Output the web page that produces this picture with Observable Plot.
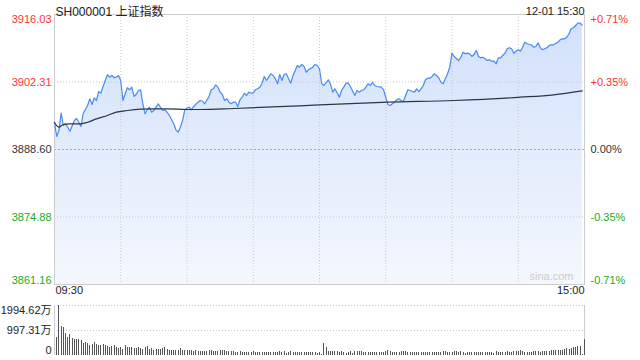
<!DOCTYPE html>
<html>
<head>
<meta charset="utf-8">
<script src="https://cdn.jsdelivr.net/npm/d3@7"></script>
<script src="https://cdn.jsdelivr.net/npm/@observablehq/plot@0.6"></script>
<style>
html, body { margin: 0; padding: 0; background: #fff; }
#chart { position: relative; width: 640px; height: 360px; font-family: "Liberation Sans", Arial, "Noto Sans CJK SC", sans-serif; }
#chart svg { position: absolute; left: 0; overflow: visible; }
</style>
</head>
<body>
<div id="chart"></div>
<script>
// ---------- data ----------
const titleText = "SH000001 上证指数";
const dateText = "12-01 15:30";
const watermark = "sina.com";
const leftTicks = [3916.03, 3902.31, 3888.60, 3874.88, 3861.16];
const rightTicks = ["+0.71%", "+0.35%", "0.00%", "-0.35%", "-0.71%"];
const timeTicks = [0, 30, 60, 90, 120, 150, 180, 210, 240];
const timeLabels = ["09:30", "15:00"];
const volTicks = [1994.62, 997.31, 0];
const volTickLabels = ["1994.62万", "997.31万", "0"];

const priceMinutes = [0,1,2,3,4,5,6,7,9,10,11,12,13,14,15,16,17,18,19,20,21,22,23,24,25,26,27,28,29,30,
31,32,33,34,35,36,37,38,39,40,41,42,43,44,45,46,47,48,49,50,51,52,54,55,56,57,58,59,60,
61,62,63,65,66,67,68,70,71,72,73,74,75,76,77,78,79,80,81,82,83,84,85,86,87,88,89,90,
91,92,93,94,95,96,97,98,99,100,101,102,103,104,105,106,107,108,109,110,111,112,113,114,115,117,118,119,120,
121,122,124,125,126,127,129,130,131,132,133,134,136,137,138,139,140,141,142,143,144,145,146,148,149,150,
151,152,153,154,155,156,157,158,159,160,161,163,164,165,166,167,168,169,170,171,172,173,174,175,176,177,178,179,180,
181,183,184,185,186,187,188,189,190,191,192,193,194,196,197,198,199,200,201,202,203,204,205,206,207,208,209,210,
211,212,213,214,215,216,217,218,219,220,221,222,223,224,225,226,228,229,230,231,232,233,234,235,236,237,238,239];
const prices = [3894.14,3891.24,3892.46,3895.97,3893.47,3893.88,3893.13,3892.31,3894.49,3894.90,3894.14,3893.27,3895.91,3896.72,3897.54,3898.90,3897.74,3899.10,3898.55,3900.38,3900.04,3901.40,3902.62,3903.78,3903.29,3903.63,3903.17,3903.29,3903.63,3902.62,
3898.55,3899.92,3901.13,3900.73,3901.26,3899.37,3899.77,3900.59,3900.73,3897.88,3895.85,3896.66,3897.19,3896.18,3896.52,3897.19,3897.88,3897.19,3896.52,3896.66,3896.18,3895.51,3893.82,3892.60,3892.11,3893.13,3894.49,3896.66,3896.99,
3897.23,3896.66,3897.33,3898.21,3898.55,3898.41,3897.88,3899.37,3900.73,3900.93,3901.74,3901.26,3900.24,3899.77,3898.55,3898.90,3898.21,3897.88,3898.21,3898.21,3897.33,3898.70,3899.22,3900.04,3899.57,3900.24,3900.04,3900.12,
3900.73,3900.93,3901.26,3902.07,3903.43,3902.62,3903.29,3903.98,3903.63,3902.96,3901.95,3903.84,3902.62,3903.84,3903.98,3902.96,3902.07,3903.63,3904.65,3905.67,3905.32,3905.87,3905.46,3904.30,3904.79,3905.32,3905.87,3905.67,3905.00,
3901.95,3901.60,3902.76,3901.81,3900.24,3900.93,3899.22,3900.59,3901.26,3902.07,3902.07,3901.40,3899.57,3900.59,3900.24,3900.59,3900.73,3901.26,3901.95,3901.60,3902.27,3901.60,3901.40,3901.26,3900.73,3899.22,
3897.74,3897.54,3897.88,3898.21,3898.70,3898.90,3898.55,3898.35,3899.57,3900.73,3900.59,3900.24,3900.93,3900.38,3900.93,3901.60,3902.76,3903.09,3903.09,3903.43,3903.98,3903.63,3903.17,3902.27,3901.95,3902.96,3903.98,3905.32,3908.17,
3907.50,3906.68,3907.35,3908.37,3908.04,3908.17,3908.04,3907.50,3907.90,3908.71,3907.50,3907.23,3907.35,3906.68,3906.82,3906.54,3906.54,3906.01,3907.23,3907.23,3907.70,3908.17,3909.06,3909.26,3909.06,3908.17,3908.57,3908.86,
3908.57,3909.38,3910.40,3910.08,3909.93,3909.87,3909.38,3909.53,3910.28,3909.26,3908.86,3909.06,3909.26,3909.73,3909.87,3909.87,3910.40,3910.89,3911.09,3911.09,3911.42,3912.11,3913.12,3913.33,3913.79,3914.26,3914.26,3913.86];

const avgMinutes = [0,2,4,7,12,15,19,24,28,33,39,45,51,60,66,81,96,111,120,151,181,211,226,239];
const avgPrices = [3894.08,3893.13,3893.68,3893.82,3893.82,3894.14,3894.83,3895.51,3896.18,3896.52,3896.79,3896.87,3896.87,3896.72,3896.72,3896.93,3897.19,3897.48,3897.68,3898.21,3898.55,3899.22,3899.71,3900.52];

// volume per minute (万), minutes 1..240
const volumes = [
706,1994.62,1169,1129,866,730,826,666,626,626,
626,586,491,507,479,387,439,507,439,387,
399,427,387,371,331,347,387,319,291,319,
251,387,307,307,319,291,267,307,291,239,
319,347,251,279,199,239,227,227,267,307,
227,211,199,187,187,187,267,199,211,187,
187,187,160,187,160,160,160,160,160,187,
187,172,172,172,187,187,187,172,160,160,
160,132,132,160,132,108,120,120,132,160,
120,108,108,108,108,108,108,108,108,108,108,
160,132,160,92,132,160,
120,120,120,120,120,120,120,120,120,120,120,92,120,
40,479,319,
160,160,160,160,160,
120,160,132,92,132,160,92,
160,160,160,160,
120,120,120,120,120,120,120,120,120,120,
160,199,160,
120,120,120,120,
160,160,172,
120,120,120,120,
108,108,108,108,108,108,108,108,108,108,108,108,
148,160,132,120,108,160,160,132,148,108,92,120,120,120,108,108,108,108,108,120,120,120,108,92,
148,120,120,120,120,148,120,132,148,148,148,187,148,120,120,120,132,148,160,172,132,160,172,148,148,
199,187,187,211,211,199,239,279,251,291,307,331,371,371,28,638];

// ---------- build ----------
const prevClose = leftTicks[2];
const RED = "#ff3333", GREEN = "#22aa22", DARK = "#333333";
const colorFor = v => v > prevClose + 1e-9 ? RED : (v < prevClose - 1e-9 ? GREEN : DARK);

const priceData = priceMinutes.map((m, i) => ({m, p: prices[i]}));
const avgData = avgMinutes.map((m, i) => ({m, p: avgPrices[i]}));
const tickData = leftTicks.map((v, i) => ({v, label: v.toFixed(2), pct: rightTicks[i], color: colorFor(v)}));
const volData = volumes.map((v, i) => ({m: i + 1, v}));
const volLabelData = volTicks.map((v, i) => ({v, label: volTickLabels[i]}));

const FONT = '"Liberation Sans", Arial, "Noto Sans CJK SC", sans-serif';

const gradientDefs = () => {
  const ns = "http://www.w3.org/2000/svg";
  const defs = document.createElementNS(ns, "defs");
  const g = document.createElementNS(ns, "linearGradient");
  g.setAttribute("id", "areaGrad");
  g.setAttribute("x1", "0"); g.setAttribute("y1", "0");
  g.setAttribute("x2", "0"); g.setAttribute("y2", "1");
  [["0%", "#d2e1fa"], ["100%", "#f4f8fe"]].forEach(([o, c]) => {
    const s = document.createElementNS(ns, "stop");
    s.setAttribute("offset", o);
    s.setAttribute("stop-color", c);
    g.appendChild(s);
  });
  defs.appendChild(g);
  return defs;
};

const tickTexts = (data, opts) => [
  Plot.text(data, {y: "v", text: "label", fill: "color", frameAnchor: "left", textAnchor: "end", dx: -3, ...opts}),
  Plot.text(data, {y: "v", text: "pct", fill: "color", frameAnchor: "right", textAnchor: "start", dx: 6, ...opts})
];

const main = Plot.plot({
  width: 640,
  height: 298,
  marginTop: 14,
  marginBottom: 14,
  marginLeft: 54,
  marginRight: 56,
  x: {domain: [timeTicks[0], timeTicks[timeTicks.length - 1]], axis: null},
  y: {domain: [leftTicks[4], leftTicks[0]], axis: null},
  color: {type: "identity"},
  style: {fontFamily: FONT, fontSize: "11px", background: "transparent", overflow: "visible"},
  marks: [
    gradientDefs,
    Plot.areaY(priceData, {x: "m", y1: leftTicks[4], y2: "p", fill: "url(#areaGrad)"}),
    Plot.ruleX(timeTicks.slice(1, -1), {stroke: "#c8c8c8", strokeDasharray: "1,2"}),
    Plot.ruleY([leftTicks[1], leftTicks[3]], {stroke: "#c8c8c8", strokeDasharray: "1,2"}),
    Plot.ruleY([leftTicks[2]], {stroke: "#a8a8a8", strokeDasharray: "2,2"}),
    Plot.frame({stroke: "#cccccc"}),
    Plot.line(priceData, {x: "m", y: "p", stroke: "#4a8af4", strokeWidth: 1.2}),
    Plot.line(avgData, {x: "m", y: "p", stroke: "#2f3540", strokeWidth: 1.2, curve: "monotone-x"}),
    ...tickTexts(tickData.slice(0, 1), {lineAnchor: "top", dy: 1}),
    ...tickTexts(tickData.slice(1, 4), {lineAnchor: "middle"}),
    ...tickTexts(tickData.slice(4), {lineAnchor: "bottom", dy: -1}),
    Plot.text([titleText], {text: d => d, frameAnchor: "top-left", textAnchor: "start", dx: 1, dy: -7, fontSize: 12, fill: "#222"}),
    Plot.text([dateText], {text: d => d, frameAnchor: "top-right", textAnchor: "end", dy: -7, fill: "#222"}),
    Plot.text([watermark], {text: d => d, frameAnchor: "bottom-right", textAnchor: "end", dx: -11, dy: -5, fill: "#cccccc"}),
    Plot.text([timeLabels[0]], {text: d => d, x: timeTicks[0], frameAnchor: "bottom", textAnchor: "start", dx: 1, dy: 9, fill: "#222"}),
    Plot.text([timeLabels[1]], {text: d => d, x: timeTicks[timeTicks.length - 1], frameAnchor: "bottom", textAnchor: "end", dy: 9, fill: "#222"})
  ]
});

const vol = Plot.plot({
  width: 640,
  height: 62,
  marginTop: 7,
  marginBottom: 5,
  marginLeft: 54,
  marginRight: 56,
  x: {domain: [timeTicks[0], timeTicks[timeTicks.length - 1]], axis: null},
  y: {domain: [0, volTicks[0]], axis: null},
  style: {fontFamily: FONT, fontSize: "11px", background: "transparent", overflow: "visible"},
  marks: [
    Plot.ruleY([volTicks[0], volTicks[1]], {stroke: "#c8c8c8", strokeDasharray: "1,2"}),
    Plot.ruleX([timeTicks[0], timeTicks[timeTicks.length - 1]], {stroke: "#cccccc"}),
    Plot.ruleX(volData, {x: "m", y1: 0, y2: "v", stroke: "#555555", shapeRendering: "crispEdges"}),
    Plot.text(volLabelData.slice(0, 1), {y: "v", text: "label", frameAnchor: "left", textAnchor: "end", dx: -3, lineAnchor: "top", dy: 1, fill: "#222"}),
    Plot.text(volLabelData.slice(1, 2), {y: "v", text: "label", frameAnchor: "left", textAnchor: "end", dx: -3, lineAnchor: "middle", fill: "#222"}),
    Plot.text(volLabelData.slice(2), {y: "v", text: "label", frameAnchor: "left", textAnchor: "end", dx: -3, lineAnchor: "bottom", dy: -2, fill: "#222"})
  ]
});

const chart = document.getElementById("chart");
main.style.top = "0px";
vol.style.top = "298px";
chart.appendChild(main);
chart.appendChild(vol);
</script>
</body>
</html>
